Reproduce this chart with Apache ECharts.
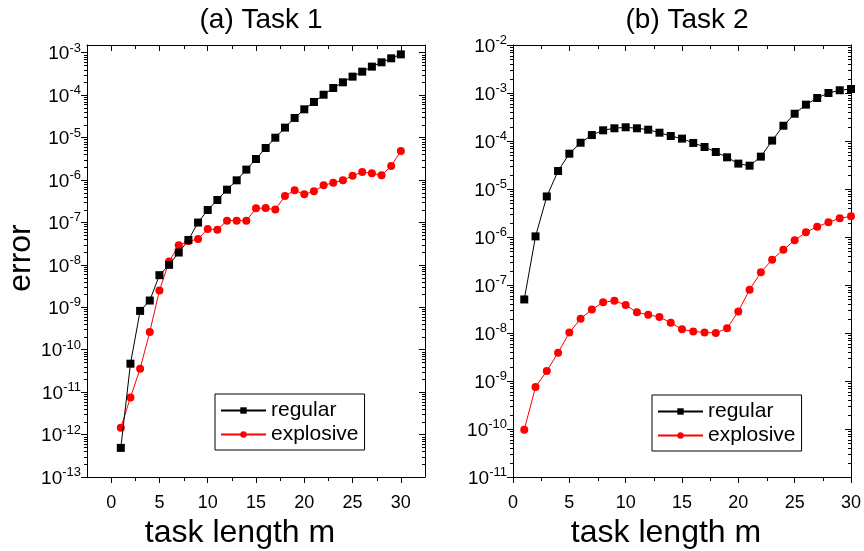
<!DOCTYPE html>
<html><head><meta charset="utf-8">
<script src="https://cdn.jsdelivr.net/npm/echarts@6/dist/echarts.min.js"></script>
<style>html,body{margin:0;padding:0;background:#fff}#c{width:864px;height:551px}</style>
</head><body><div id="c"></div>
<script>
const taskLengths = [1,2,3,4,5,6,7,8,9,10,11,12,13,14,15,16,17,18,19,20,21,22,23,24,25,26,27,28,29,30];
const task1Regular = [4.85e-13,4.68e-11,8.2e-10,1.44e-9,5.7e-9,1.0e-8,1.95e-8,3.85e-8,9.9e-8,1.96e-7,3.37e-7,5.9e-7,9.8e-7,1.75e-6,3.12e-6,5.66e-6,9.9e-6,1.71e-5,2.89e-5,4.62e-5,6.88e-5,1.02e-4,1.47e-4,2.0e-4,2.72e-4,3.56e-4,4.68e-4,5.92e-4,7.35e-4,9.1e-4];
const task1Explosive = [1.44e-12,7.5e-12,3.56e-11,2.62e-10,2.48e-9,1.19e-8,2.88e-8,3.58e-8,4.06e-8,6.99e-8,6.74e-8,1.1e-7,1.1e-7,1.1e-7,2.15e-7,2.17e-7,2.0e-7,4.19e-7,5.7e-7,4.58e-7,5.4e-7,7.47e-7,8.63e-7,9.8e-7,1.26e-6,1.54e-6,1.43e-6,1.29e-6,2.13e-6,4.82e-6];
const task2Regular = [5.0e-8,1.03e-6,7.0e-6,2.37e-5,5.44e-5,9.2e-5,1.33e-4,1.67e-4,1.84e-4,1.93e-4,1.84e-4,1.72e-4,1.49e-4,1.27e-4,1.12e-4,9.1e-5,7.5e-5,5.9e-5,4.57e-5,3.38e-5,3.06e-5,4.72e-5,1.02e-4,2.08e-4,3.7e-4,5.72e-4,7.87e-4,1.0e-3,1.14e-3,1.21e-3];
const task2Explosive = [9.7e-11,7.5e-10,1.62e-9,3.89e-9,1.02e-8,1.98e-8,3.1e-8,4.35e-8,4.71e-8,3.83e-8,2.69e-8,2.4e-8,2.15e-8,1.64e-8,1.19e-8,1.08e-8,1.03e-8,1.0e-8,1.25e-8,2.82e-8,8.0e-8,1.84e-7,3.37e-7,5.44e-7,8.53e-7,1.25e-6,1.64e-6,2.02e-6,2.45e-6,2.7e-6];
const xTickLabels = [0,5,10,15,20,25,30];
const xMinorTicks = [2.5,7.5,12.5,17.5,22.5,27.5];
const task1Decades = [-13,-12,-11,-10,-9,-8,-7,-6,-5,-4,-3];
const task2Decades = [-11,-10,-9,-8,-7,-6,-5,-4,-3,-2];
const seriesNames = ['regular','explosive'];
const panelTitles = ['(a) Task 1','(b) Task 2'];

const FONT = 'Liberation Sans, Arial, sans-serif';
const INK = '#000';
const MAJOR = 6, MINOR = 3.5;
function minorsFor(decades, lo, hi){
  const out=[];
  decades.forEach(d=>{for(let k=2;k<=9;k++){const v=d+Math.log10(k); if(v>lo&&v<hi) out.push(v);}});
  return out;
}
const px = v => Math.round(v) + 0.5;
function tickLine(x1,y1,x2,y2){
  return {type:'line', shape:{x1:x1,y1:y1,x2:x2,y2:y2}, style:{stroke:INK,lineWidth:1}, silent:true};
}
const xAxes=[], yAxes=[], series=[];
function addPanel(gi, xr, yr, decades, regular, explosive, showYName){
  const minors = minorsFor(decades, yr[0], yr[1]);
  const base = {type:'value', gridIndex:gi, splitLine:{show:false}, axisLine:{show:true,onZero:false,lineStyle:{color:INK,width:1}}};
  const xb = Object.assign({}, base, {min:xr[0], max:xr[1]});
  const xMainIdx = xAxes.length;
  xAxes.push(Object.assign({}, xb, {position:'bottom',
    axisTick:{show:true,customValues:xTickLabels,length:MAJOR,lineStyle:{color:INK}},
    axisLabel:{customValues:xTickLabels,fontSize:18,margin:17,color:INK,fontFamily:FONT},
    name:'task length m', nameLocation:'middle', nameGap:38,
    nameTextStyle:{fontSize:32,color:INK,fontFamily:FONT,padding:[0,32,0,0]}}));
  xAxes.push(Object.assign({}, xb, {position:'top',
    axisTick:{show:true,customValues:xTickLabels,length:MAJOR,inside:true,lineStyle:{color:INK}}, axisLabel:{show:false}}));
  const yb = Object.assign({}, base, {min:yr[0], max:yr[1]});
  const yMainIdx = yAxes.length;
  yAxes.push(Object.assign({}, yb, {position:'left',
    axisTick:{show:true,customValues:decades,length:MAJOR,lineStyle:{color:INK}},
    axisLabel:{customValues:decades,margin:6,color:INK,fontFamily:FONT,
      formatter:v=>'{b|10}{s|'+Math.round(v)+'}',
      rich:{b:{fontSize:19,lineHeight:22,verticalAlign:'bottom',color:INK,fontFamily:FONT},
            s:{fontSize:13,lineHeight:13,verticalAlign:'top',color:INK,fontFamily:FONT}}},
    name: showYName?'error':'', nameLocation:'middle', nameGap:49, nameRotate:90,
    nameTextStyle:{fontSize:32,color:INK,fontFamily:FONT,padding:[0,0,0,6]}}));
  yAxes.push(Object.assign({}, yb, {position:'right',
    axisTick:{show:true,customValues:decades,length:MAJOR,inside:true,lineStyle:{color:INK}}, axisLabel:{show:false}}));

  // log-spaced minor ticks on left (outward) and right (inward) frame, placed through the axis scales
  series.push({type:'custom', coordinateSystem:'cartesian2d', xAxisIndex:xMainIdx, yAxisIndex:yMainIdx,
    silent:true, clip:false, z:1, data:minors.map(v=>[xr[0], v]),
    renderItem:(params, api)=>{
      const l = api.coord([xr[0], api.value(1)]);
      const r = api.coord([xr[1], api.value(1)]);
      const y = px(l[1]);
      return {type:'group', children:[
        tickLine(px(l[0]) - MINOR, y, px(l[0]), y),
        tickLine(px(r[0]) - MINOR, y, px(r[0]), y)]};
    }});
  // minor x ticks on bottom (outward) and top (inward)
  series.push({type:'custom', coordinateSystem:'cartesian2d', xAxisIndex:xMainIdx, yAxisIndex:yMainIdx,
    silent:true, clip:false, z:1, data:xMinorTicks.map(v=>[v, yr[0]]),
    renderItem:(params, api)=>{
      const b = api.coord([api.value(0), yr[0]]);
      const t = api.coord([api.value(0), yr[1]]);
      const x = px(b[0]);
      return {type:'group', children:[
        tickLine(x, px(b[1]), x, px(b[1]) + MINOR),
        tickLine(x, px(t[1]), x, px(t[1]) + MINOR)]};
    }});

  series.push({type:'line', name:seriesNames[0], xAxisIndex:xMainIdx, yAxisIndex:yMainIdx,
    data:taskLengths.map((x,i)=>[x,Math.log10(regular[i])]),
    symbol:'rect', symbolSize:8, lineStyle:{color:'#000',width:1}, itemStyle:{color:'#000'}, z:3});
  series.push({type:'line', name:seriesNames[1], xAxisIndex:xMainIdx, yAxisIndex:yMainIdx,
    data:taskLengths.map((x,i)=>[x,Math.log10(explosive[i])]),
    symbol:'circle', symbolSize:8, lineStyle:{color:'#ff0000',width:1}, itemStyle:{color:'#ff0000'}, z:2});
}
addPanel(0, [-2.5,32.5], [-13,-2.82], task1Decades, task1Regular, task1Explosive, true);
addPanel(1, [0,30], [-11,-2], task2Decades, task2Regular, task2Explosive, false);

const legendBase = {orient:'vertical', data:seriesNames, itemWidth:45, itemHeight:8, itemGap:3,
  borderColor:'#000', borderWidth:1, padding:[6,6,5,5], backgroundColor:'#fff',
  textStyle:{fontSize:21,color:INK,fontFamily:FONT}, selectedMode:false};

const option = {
  animation:false,
  backgroundColor:'#fff',
  title:[
    {text:panelTitles[0], left:256, top:1, textAlign:'center', textStyle:{fontSize:28,fontWeight:'normal',color:INK,fontFamily:FONT}},
    {text:panelTitles[1], left:682, top:1, textAlign:'center', textStyle:{fontSize:28,fontWeight:'normal',color:INK,fontFamily:FONT}}
  ],
  legend:[Object.assign({}, legendBase, {left:215, top:394}), Object.assign({}, legendBase, {left:652, top:395})],
  grid:[
    {left:87, right:439, top:45, bottom:74, outerBoundsMode:'none', containLabel:false},
    {left:513, right:13, top:45, bottom:74, outerBoundsMode:'none', containLabel:false}
  ],
  xAxis:xAxes, yAxis:yAxes, series:series
};
echarts.init(document.getElementById('c')).setOption(option);
</script></body></html>
